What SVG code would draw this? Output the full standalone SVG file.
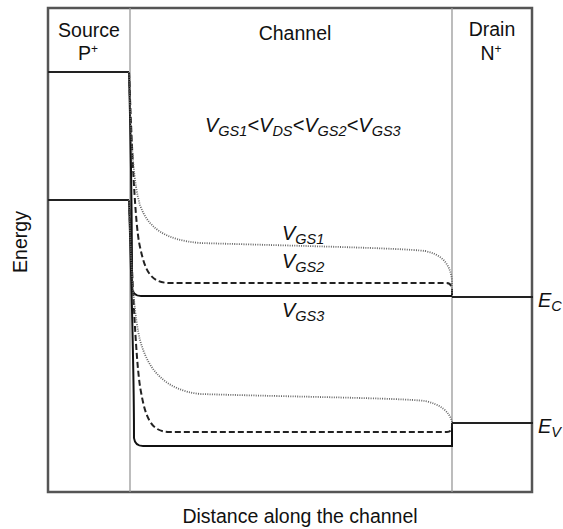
<svg xmlns="http://www.w3.org/2000/svg" width="563" height="529" viewBox="0 0 563 529">
  <style>
    .lbl { font-family: "Liberation Sans", Arial, sans-serif; font-size: 19.5px; fill: #111; }
    .it { font-family: "Liberation Sans", Arial, sans-serif; font-style: italic; fill: #111; }
    .frame { fill: none; stroke: #555; stroke-width: 2.5; }
    .div { fill: none; stroke: #999; stroke-width: 1.3; }
    .band { fill: none; stroke: #222; stroke-width: 2; }
    .solid { fill: none; stroke: #111; stroke-width: 2; }
    .dash { fill: none; stroke: #222; stroke-width: 2; stroke-dasharray: 6 3; }
    .dot { fill: none; stroke: #666; stroke-width: 1.8; stroke-dasharray: 1 1.3; }
  </style>

  <rect width="563" height="529" fill="#fff"/>

  <!-- plot frame and region dividers -->
  <g id="frame">
    <rect class="frame" x="48" y="8" width="484" height="484"/>
    <line class="div" x1="130" y1="8" x2="130" y2="492"/>
    <line class="div" x1="452" y1="8" x2="452" y2="492"/>
  </g>

  <!-- region headers -->
  <g id="source">
    <text class="lbl" x="89" y="37" text-anchor="middle">Source</text>
    <text class="lbl" x="88" y="60" text-anchor="middle">P<tspan font-size="12" dy="-7">+</tspan></text>
  </g>
  <g id="channel">
    <text class="lbl" x="295" y="40" text-anchor="middle">Channel</text>
  </g>
  <g id="drain">
    <text class="lbl" x="492" y="36" text-anchor="middle">Drain</text>
    <text class="lbl" x="491" y="60" text-anchor="middle">N<tspan font-size="12" dy="-7">+</tspan></text>
  </g>

  <!-- band edges and curves -->
  <g id="connectors">
    <!-- source levels -->
    <path class="band" d="M48,72 L129,72"/>
    <path class="band" d="M48,200 L129,200" stroke-width="1.6"/>
    <!-- drain levels -->
    <path class="band" d="M452,297 L533,297"/>
    <path class="band" d="M452,423 L533,423"/>

    <!-- conduction band -->
    <path class="solid" d="M129,72 C131,150 132,260 132,288 Q133,296 141,296 L452,296"/>
    <path class="dash" d="M129,72 C133,180 136,230 140,247 C145,270 150,283 170,283 L446,283 Q452,283 452,290 L452,296"/>
    <path class="dot" d="M129,72 C131,150 134,185 140,205 C148,228 165,240 200,243 C300,246 400,248 425,251 C440,254 450,262 452,280 L452,294"/>

    <!-- valence band -->
    <path class="solid" d="M129,200 C132,300 134,400 134,438 Q135,446 143,446 L452,446 L452,423"/>
    <path class="dash" d="M129,200 C134,320 137,372 141,392 C146,420 152,432 170,432 L447,432 Q452,432 452,426 L452,423"/>
    <path class="dot" d="M129,200 C131,280 135,320 140,340 C148,370 165,390 200,394 C300,397 400,398 425,401 C440,404 450,412 452,422"/>
  </g>

  <!-- curve labels -->
  <g id="legend">
    <text class="it" x="205" y="132" font-size="20">V<tspan font-size="14.5" dy="4">GS1</tspan><tspan dy="-4">&lt;V</tspan><tspan font-size="14.5" dy="4">DS</tspan><tspan dy="-4">&lt;V</tspan><tspan font-size="14.5" dy="4">GS2</tspan><tspan dy="-4">&lt;V</tspan><tspan font-size="14.5" dy="4">GS3</tspan></text>
  </g>
  <g id="label-vgs1">
    <text class="it" x="282" y="240" font-size="20">V<tspan font-size="14.5" dy="4">GS1</tspan></text>
  </g>
  <g id="label-vgs2">
    <text class="it" x="282" y="268" font-size="20">V<tspan font-size="14.5" dy="4">GS2</tspan></text>
  </g>
  <g id="label-vgs3">
    <text class="it" x="282" y="317" font-size="20">V<tspan font-size="14.5" dy="4">GS3</tspan></text>
  </g>
  <g id="label-ec">
    <text class="it" x="538" y="307" font-size="20">E<tspan font-size="14.5" dy="4">C</tspan></text>
  </g>
  <g id="label-ev">
    <text class="it" x="538" y="433" font-size="20">E<tspan font-size="14.5" dy="4">V</tspan></text>
  </g>

  <!-- axis titles -->
  <g id="axes">
    <text class="lbl" transform="translate(27,242) rotate(-90)" text-anchor="middle">Energy</text>
    <text class="lbl" x="300" y="523" text-anchor="middle">Distance along the channel</text>
  </g>
</svg>
